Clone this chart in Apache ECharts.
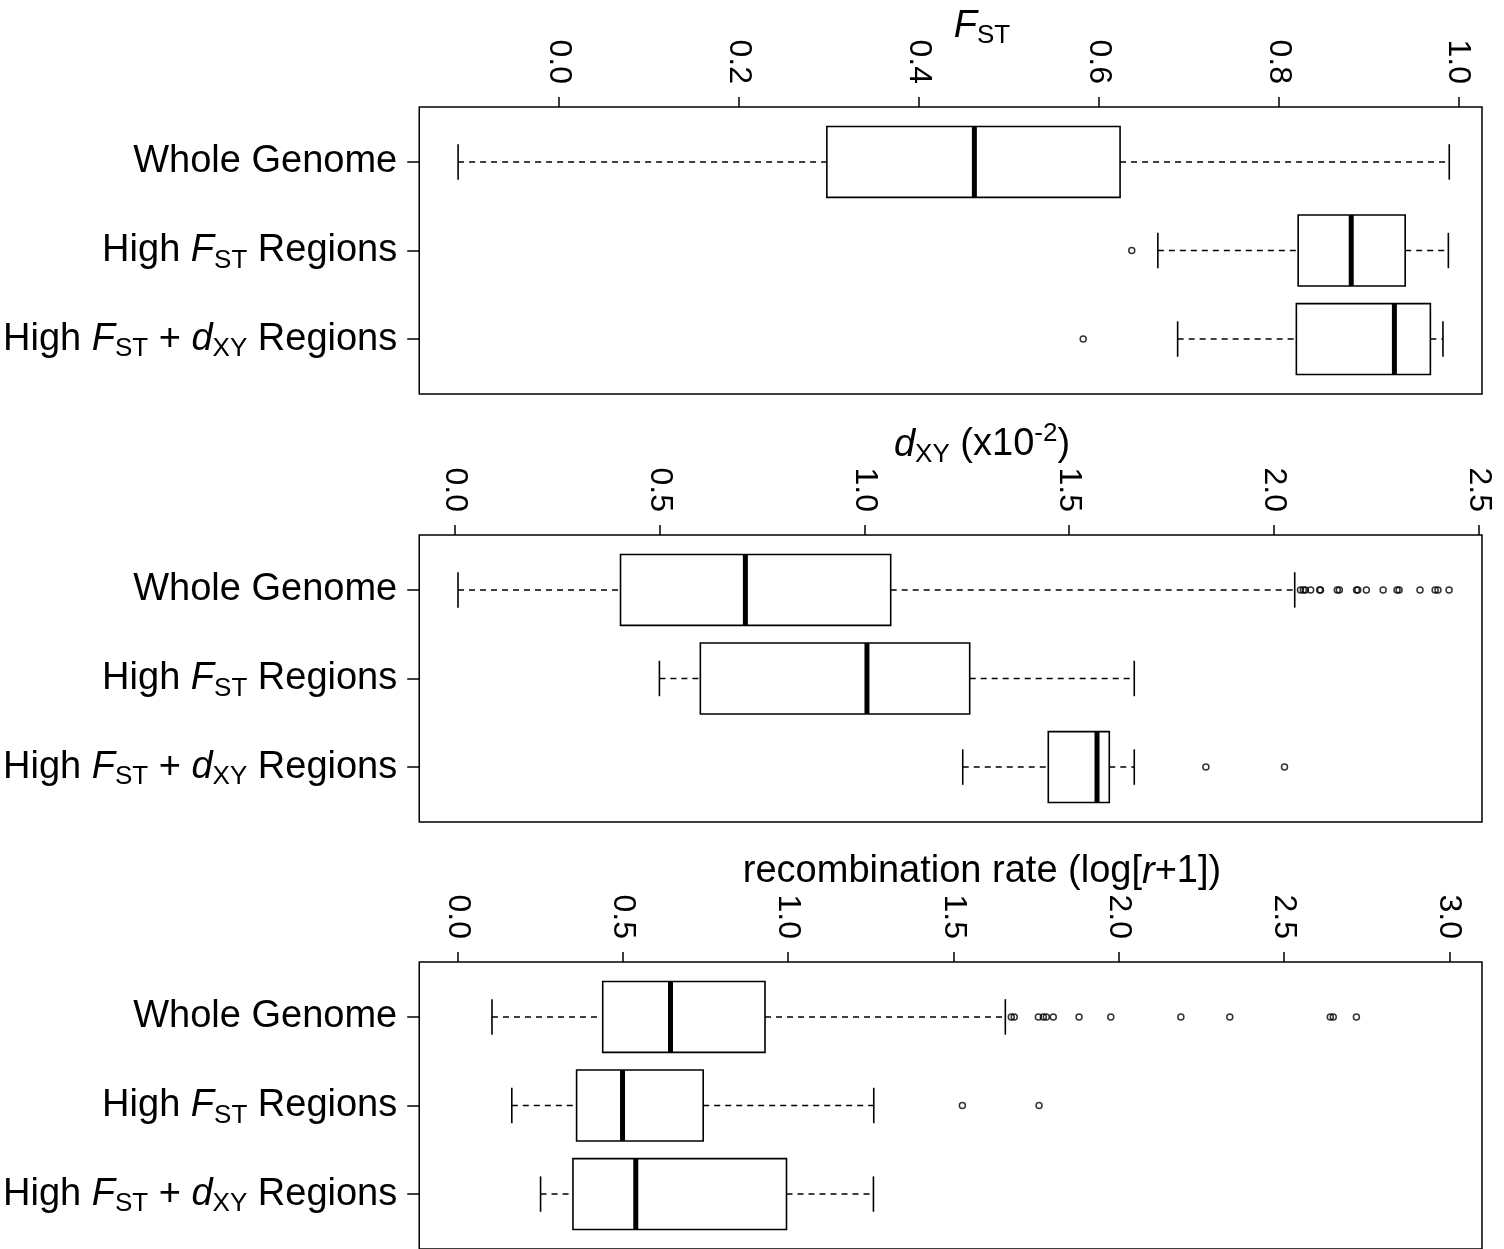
<!DOCTYPE html>
<html><head><meta charset="utf-8">
<script src="https://cdn.jsdelivr.net/npm/echarts@6/dist/echarts.min.js"></script>
<style>html,body{margin:0;padding:0;background:#fff}#c{width:1504px;height:1249px}</style>
</head><body><div id="c"></div>
<script>
// ---- data ----
const categories = ['Whole Genome', 'High FST Regions', 'High FST + dXY Regions'];
// [lower whisker, Q1, median, Q3, upper whisker] per category
const fstStats = [[-0.112, 0.298, 0.462, 0.624, 0.990], [0.666, 0.822, 0.881, 0.941, 0.989], [0.688, 0.820, 0.929, 0.969, 0.983]];
const fstOutliers = [[], [0.637], [0.583]];
const dxyStats = [[0.007, 0.404, 0.709, 1.064, 2.051], [0.499, 0.599, 1.006, 1.257, 1.659], [1.240, 1.449, 1.568, 1.598, 1.659]];
const dxyOutliers = [[2.065, 2.072, 2.077, 2.090, 2.112, 2.114, 2.155, 2.160, 2.202, 2.205, 2.226, 2.267, 2.301, 2.306, 2.357, 2.394, 2.401, 2.428], [], [1.834, 2.026]];
const recStats = [[0.104, 0.439, 0.644, 0.930, 1.657], [0.164, 0.360, 0.499, 0.743, 1.259], [0.251, 0.349, 0.539, 0.995, 1.258]];
const recOutliers = [[1.675, 1.684, 1.757, 1.772, 1.781, 1.802, 1.880, 1.976, 2.188, 2.336, 2.640, 2.649, 2.719], [1.527, 1.759], []];
const fstTicks = [0, 0.2, 0.4, 0.6, 0.8, 1.0];
const dxyTicks = [0, 0.5, 1.0, 1.5, 2.0, 2.5];
const recTicks = [0, 0.5, 1.0, 1.5, 2.0, 2.5, 3.0];
const catLabels = ['Whole Genome', 'High {i|F}{sub|ST} Regions', 'High {i|F}{sub|ST} + {i|d}{sub|XY} Regions'];
const titles = ['{i|F}{sub|ST}', '{i|d}{sub|XY} (x10{sup|-2})', 'recombination rate (log[{i|r}+1])'];

// ---- styling / layout ----
const FF = 'Liberation Sans';
const FS = 38;
const TFS = 32;
const rich = {
  i: { fontFamily: FF, fontSize: FS, fontStyle: 'italic', color: '#000', lineHeight: 46 },
  sub: { fontFamily: FF, fontSize: 26, color: '#000', lineHeight: 26, padding: [20, 0, 0, 0] },
  sup: { fontFamily: FF, fontSize: 26, color: '#000', lineHeight: 26, padding: [0, 0, 22, 0] }
};
const panels = [
  { stats: fstStats, outliers: fstOutliers, ticks: fstTicks, min: -0.1552, max: 1.0264, top: 107, height: 287 },
  { stats: dxyStats, outliers: dxyOutliers, ticks: dxyTicks, min: -0.0877, max: 2.5085, top: 535, height: 287 },
  { stats: recStats, outliers: recOutliers, ticks: recTicks, min: -0.116, max: 3.099, top: 962, height: 287 }
];
const titleY = [26, 445, 872];

function renderBox(params, api) {
  const y = api.value(0);
  const wl = api.value(1), q1 = api.value(2), med = api.value(3), q3 = api.value(4), wh = api.value(5);
  const half = api.size([0, 0.4])[1];
  const cap = half / 2;
  const c = api.coord([0, y])[1];
  const X = v => api.coord([v, y])[0];
  const solid = { stroke: '#000', lineWidth: 1.6, fill: null };
  const dashed = { stroke: '#000', lineWidth: 1.5, lineDash: [6, 5] };
  return {
    type: 'group',
    children: [
      { type: 'line', shape: { x1: X(wl), y1: c, x2: X(q1), y2: c }, style: dashed },
      { type: 'line', shape: { x1: X(q3), y1: c, x2: X(wh), y2: c }, style: dashed },
      { type: 'line', shape: { x1: X(wl), y1: c - cap, x2: X(wl), y2: c + cap }, style: solid },
      { type: 'line', shape: { x1: X(wh), y1: c - cap, x2: X(wh), y2: c + cap }, style: solid },
      { type: 'rect', shape: { x: X(q1), y: c - half, width: X(q3) - X(q1), height: 2 * half }, style: { stroke: '#000', lineWidth: 1.6, fill: '#fff' } },
      { type: 'line', shape: { x1: X(med), y1: c - half, x2: X(med), y2: c + half }, style: { stroke: '#000', lineWidth: 5 } }
    ]
  };
}

const option = { animation: false, backgroundColor: '#fff', grid: [], xAxis: [], yAxis: [], series: [], graphic: [] };
panels.forEach((p, k) => {
  option.grid.push({ left: 414, top: p.top, width: 1068, height: p.height, show: true, borderColor: '#000', borderWidth: 1.5, backgroundColor: 'transparent', containLabel: false });
  option.xAxis.push({
    type: 'value', gridIndex: k, position: 'top', min: p.min, max: p.max,
    axisLine: { show: false, onZero: false }, splitLine: { show: false },
    axisTick: { show: true, length: 10, customValues: p.ticks, lineStyle: { color: '#000', width: 1.5 } },
    axisLabel: { show: true, rotate: 90, margin: 23, customValues: p.ticks, formatter: v => v.toFixed(1), fontFamily: FF, fontSize: TFS, color: '#000' }
  });
  option.yAxis.push({
    type: 'value', gridIndex: k, min: 0.38, max: 3.62, position: 'left',
    axisLine: { show: false, onZero: false }, splitLine: { show: false },
    axisTick: { show: true, length: 12, customValues: [1, 2, 3], lineStyle: { color: '#000', width: 1.5 } },
    axisLabel: { show: true, margin: 22, customValues: [1, 2, 3], formatter: v => catLabels[3 - Math.round(v)], fontFamily: FF, fontSize: FS, color: '#000', lineHeight: 46, rich: rich }
  });
  option.series.push({
    type: 'custom', xAxisIndex: k, yAxisIndex: k, renderItem: renderBox,
    encode: { x: [1, 2, 3, 4, 5], y: 0 },
    data: p.stats.map((s, i) => [3 - i].concat(s)), z: 2
  });
  const outs = [];
  p.outliers.forEach((arr, i) => arr.forEach(v => outs.push([v, 3 - i])));
  option.series.push({
    type: 'scatter', xAxisIndex: k, yAxisIndex: k, symbol: 'circle', symbolSize: 6,
    itemStyle: { color: 'rgba(0,0,0,0)', borderColor: '#000', borderWidth: 1.5 },
    data: outs, z: 3
  });
  option.graphic.push({
    type: 'text', x: 982, y: titleY[k], z: 10,
    style: { text: titles[k], rich: rich, fontFamily: FF, fontSize: FS, fill: '#000', lineHeight: 46, align: 'center', verticalAlign: 'middle' }
  });
});

const chart = echarts.init(document.getElementById('c'), null, { renderer: 'canvas' });
chart.setOption(option);
</script>
</body></html>
